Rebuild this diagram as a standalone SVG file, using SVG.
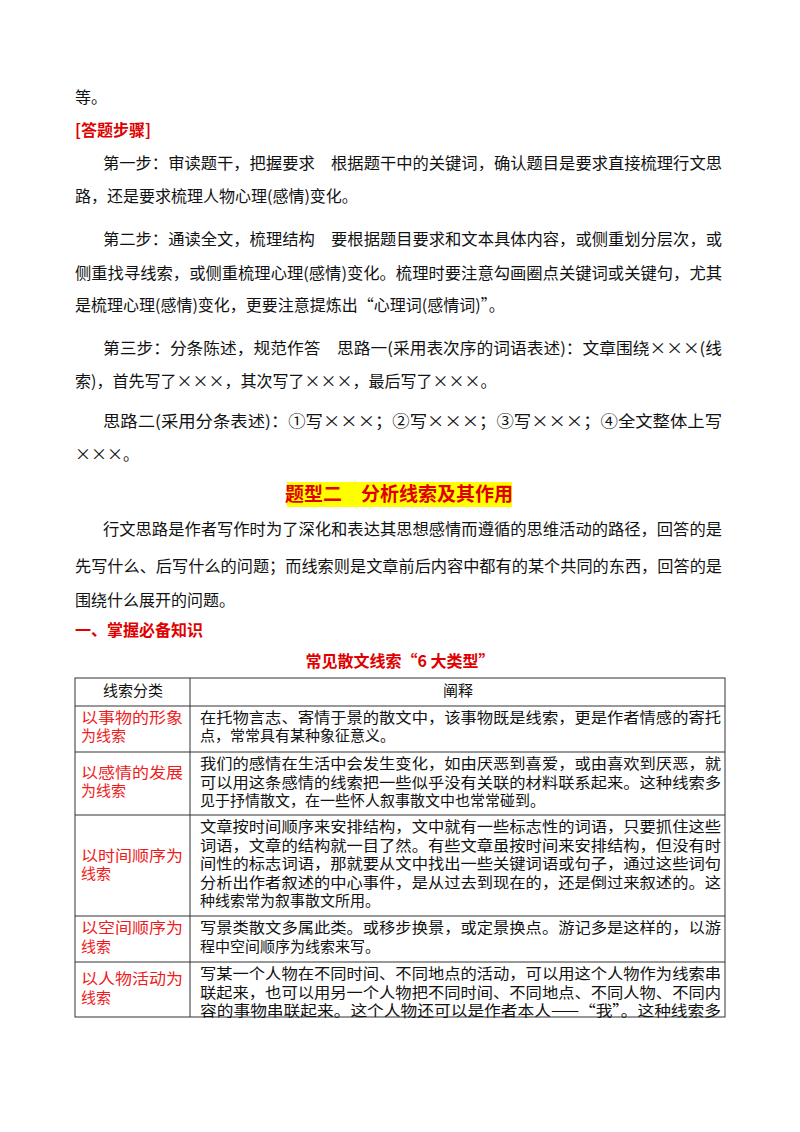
<svg xmlns="http://www.w3.org/2000/svg" width="800" height="1132" viewBox="0 0 800 1132">
<style>
text{font-family:"Noto Sans CJK SC","Noto Sans",sans-serif;font-size:16px;fill:#111}
.r{fill:#e00000}
.b{font-weight:bold}
.t{font-size:15px}
.l{fill:#ee1c1c;font-size:15px}
line{stroke:#333;stroke-width:1}
</style>
<rect width="800" height="1132" fill="#fff"/>
<g id="intro">
<text x="75" y="103">等。</text>
<text x="75" y="136" class="r b">[答题步骤]</text>
<text x="103" y="169" textLength="619" lengthAdjust="spacingAndGlyphs">第一步：审读题干，把握要求　根据题干中的关键词，确认题目是要求直接梳理行文思</text>
<text x="75" y="202">路，还是要求梳理人物心理(感情)变化。</text>
<text x="103" y="245" textLength="619" lengthAdjust="spacingAndGlyphs">第二步：通读全文，梳理结构　要根据题目要求和文本具体内容，或侧重划分层次，或</text>
<text x="75" y="279" textLength="647" lengthAdjust="spacingAndGlyphs">侧重找寻线索，或侧重梳理心理(感情)变化。梳理时要注意勾画圈点关键词或关键句，尤其</text>
<text x="75" y="311">是梳理心理(感情)变化，更要注意提炼出“心理词(感情词)”。</text>
<text x="103" y="354" textLength="619" lengthAdjust="spacingAndGlyphs">第三步：分条陈述，规范作答　思路一(采用表次序的词语表述)：文章围绕×××(线</text>
<text x="75" y="387">索)，首先写了×××，其次写了×××，最后写了×××。</text>
<text x="103" y="427" textLength="619" lengthAdjust="spacingAndGlyphs">思路二(采用分条表述)：①写×××；②写×××；③写×××；④全文整体上写</text>
<text x="75" y="460">×××。</text>
</g>
<g id="title">
<rect x="287" y="482" width="225" height="25" fill="#ffff00"/>
<text x="399" y="501" text-anchor="middle" class="r b" style="font-size:19px">题型二　分析线索及其作用</text>
</g>
<g id="para">
<text x="103" y="535" textLength="619" lengthAdjust="spacingAndGlyphs">行文思路是作者写作时为了深化和表达其思想感情而遵循的思维活动的路径，回答的是</text>
<text x="75" y="572" textLength="647" lengthAdjust="spacingAndGlyphs">先写什么、后写什么的问题；而线索则是文章前后内容中都有的某个共同的东西，回答的是</text>
<text x="75" y="606">围绕什么展开的问题。</text>
<text x="75" y="636" class="r b">一、掌握必备知识</text>
<text x="400" y="667" text-anchor="middle" class="r b">常见散文线索“6 大类型”</text>
</g>
<g id="table">
<g id="grid">
<rect x="75" y="678" width="650" height="339" fill="none" stroke="#333"/>
<line x1="190" y1="678" x2="190" y2="1017"/>
<line x1="75" y1="706" x2="725" y2="706"/>
<line x1="75" y1="752" x2="725" y2="752"/>
<line x1="75" y1="815" x2="725" y2="815"/>
<line x1="75" y1="916" x2="725" y2="916"/>
<line x1="75" y1="962" x2="725" y2="962"/>
</g>
<text x="133" y="696" text-anchor="middle" class="t">线索分类</text>
<text x="458" y="696" text-anchor="middle" class="t">阐释</text>
<text x="81" y="723" class="l" textLength="102" lengthAdjust="spacingAndGlyphs">以事物的形象</text>
<text x="81" y="741" class="l">为线索</text>
<text x="81" y="778" class="l" textLength="102" lengthAdjust="spacingAndGlyphs">以感情的发展</text>
<text x="81" y="796" class="l">为线索</text>
<text x="81" y="861" class="l" textLength="102" lengthAdjust="spacingAndGlyphs">以时间顺序为</text>
<text x="81" y="879" class="l">线索</text>
<text x="81" y="933" class="l" textLength="102" lengthAdjust="spacingAndGlyphs">以空间顺序为</text>
<text x="81" y="952" class="l">线索</text>
<text x="81" y="984" class="l" textLength="102" lengthAdjust="spacingAndGlyphs">以人物活动为</text>
<text x="81" y="1003" class="l">线索</text>
<g class="cells">
<text x="200" y="723" class="t" textLength="521" lengthAdjust="spacingAndGlyphs">在托物言志、寄情于景的散文中，该事物既是线索，更是作者情感的寄托</text>
<text x="200" y="741" class="t">点，常常具有某种象征意义。</text>
<text x="200" y="769" class="t" textLength="521" lengthAdjust="spacingAndGlyphs">我们的感情在生活中会发生变化，如由厌恶到喜爱，或由喜欢到厌恶，就</text>
<text x="200" y="788" class="t" textLength="521" lengthAdjust="spacingAndGlyphs">可以用这条感情的线索把一些似乎没有关联的材料联系起来。这种线索多</text>
<text x="200" y="806" class="t">见于抒情散文，在一些怀人叙事散文中也常常碰到。</text>
<text x="200" y="832" class="t" textLength="521" lengthAdjust="spacingAndGlyphs">文章按时间顺序来安排结构，文中就有一些标志性的词语，只要抓住这些</text>
<text x="200" y="851" class="t" textLength="521" lengthAdjust="spacingAndGlyphs">词语，文章的结构就一目了然。有些文章虽按时间来安排结构，但没有时</text>
<text x="200" y="869" class="t" textLength="521" lengthAdjust="spacingAndGlyphs">间性的标志词语，那就要从文中找出一些关键词语或句子，通过这些词句</text>
<text x="200" y="888" class="t" textLength="521" lengthAdjust="spacingAndGlyphs">分析出作者叙述的中心事件，是从过去到现在的，还是倒过来叙述的。这</text>
<text x="200" y="906" class="t">种线索常为叙事散文所用。</text>
<text x="200" y="933" class="t" textLength="521" lengthAdjust="spacingAndGlyphs">写景类散文多属此类。或移步换景，或定景换点。游记多是这样的，以游</text>
<text x="200" y="952" class="t">程中空间顺序为线索来写。</text>
<text x="200" y="979" class="t" textLength="521" lengthAdjust="spacingAndGlyphs">写某一个人物在不同时间、不同地点的活动，可以用这个人物作为线索串</text>
<text x="200" y="998" class="t" textLength="521" lengthAdjust="spacingAndGlyphs">联起来，也可以用另一个人物把不同时间、不同地点、不同人物、不同内</text>
<text x="200" y="1016" class="t" textLength="521" lengthAdjust="spacingAndGlyphs">容的事物串联起来。这个人物还可以是作者本人——“我”。这种线索多</text>
</g>
</g>
</svg>
